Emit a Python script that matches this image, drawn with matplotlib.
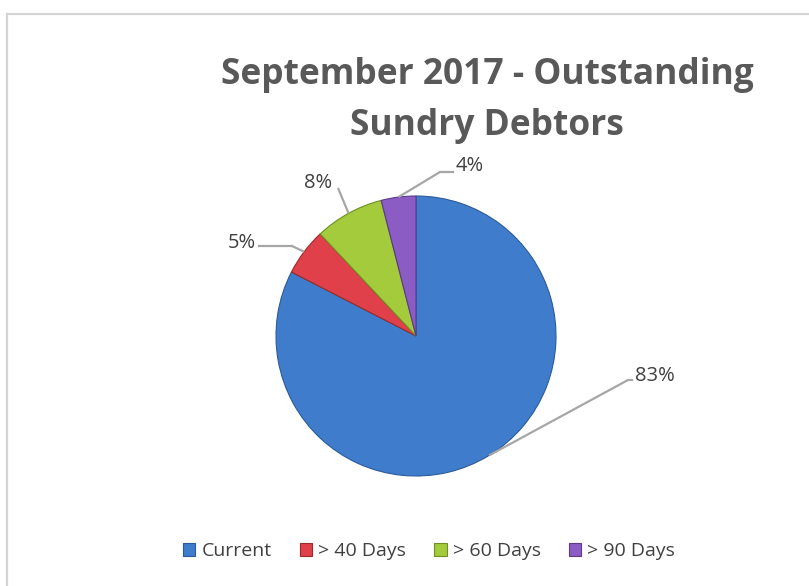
import numpy as np
import matplotlib.pyplot as plt
from matplotlib.patches import Rectangle

# data
categories = ['Current', '> 40 Days', '> 60 Days', '> 90 Days']
shares = [82.55, 5.45, 8.0, 4.0]
colors = ['#3f7dcc', '#e0404a', '#a3cb3c', '#8a5cc4']
edge_colors = ['#2a5a9a', '#9a2a2a', '#6f8f25', '#5a3a8a']

# label placement (text anchor and elbow point, pixel coords)
label_text_pos = [(635, 376), (256, 243), (318, 183), (456, 166)]
label_elbow = [(628, 380), (292, 246), (338, 188), (440, 172)]
label_ha = ['left', 'right', 'center', 'left']

W, H = 809, 586
fig = plt.figure(figsize=(W / 100, H / 100), dpi=100)
ax = fig.add_axes([0, 0, 1, 1])
ax.set_xlim(0, W)
ax.set_ylim(0, H)
ax.set_aspect('equal')
ax.axis('off')

# outer chart frame (runs off right and bottom edges)
ax.add_patch(Rectangle((7.5, -10), 820, H - 13.5 + 10, fill=False,
                       edgecolor='#d4d4d4', linewidth=1.6))

cx, cy, r = 416, H - 336, 140
wedges, _ = ax.pie(shares, colors=colors, startangle=90, counterclock=False,
                   center=(cx, cy), radius=r, frame=True,
                   wedgeprops=dict(linewidth=0.8))
for w, ec in zip(wedges, edge_colors):
    w.set_edgecolor(ec)
ax.set_xlim(0, W)
ax.set_ylim(0, H)
ax.axis('off')

# leader lines and percentage labels
for w, val, tp, el, ha in zip(wedges, shares, label_text_pos, label_elbow, label_ha):
    mid = np.deg2rad((w.theta1 + w.theta2) / 2)
    px, py = cx + r * np.cos(mid), cy + r * np.sin(mid)
    ex, ey = el[0], H - el[1]
    ax.plot([px, ex], [py, ey], color='#a6a6a6', lw=1.6, solid_capstyle='butt')
    tx, ty = tp[0], H - tp[1]
    if ha == 'left':
        ax.plot([ex, tx - 3], [ey, ey], color='#a6a6a6', lw=1.6)
    elif ha == 'right':
        ax.plot([ex, tx + 3], [ey, ey], color='#a6a6a6', lw=1.6)
    ax.text(tx, ty, f'{round(val):.0f}%', ha=ha, va='center', fontsize=14.5,
            color='#404040', family='Open Sans')

# title
ax.text(487, H - 75, 'September 2017 - Outstanding', ha='center', va='center',
        fontsize=25.5, fontweight='bold', color='#595959', family='Open Sans')
ax.text(487, H - 126, 'Sundry Debtors', ha='center', va='center',
        fontsize=25.5, fontweight='bold', color='#595959', family='Open Sans')

# legend
leg = ax.legend(wedges, categories, loc='center', bbox_to_anchor=(429 / W, 1 - 551 / H),
                ncol=4, frameon=False, handlelength=0.65, handleheight=0.65,
                handletextpad=0.3, columnspacing=1.45,
                prop=dict(family='Open Sans', size=14))
for t in leg.get_texts():
    t.set_color('#404040')

plt.savefig('out.png', dpi=100)
